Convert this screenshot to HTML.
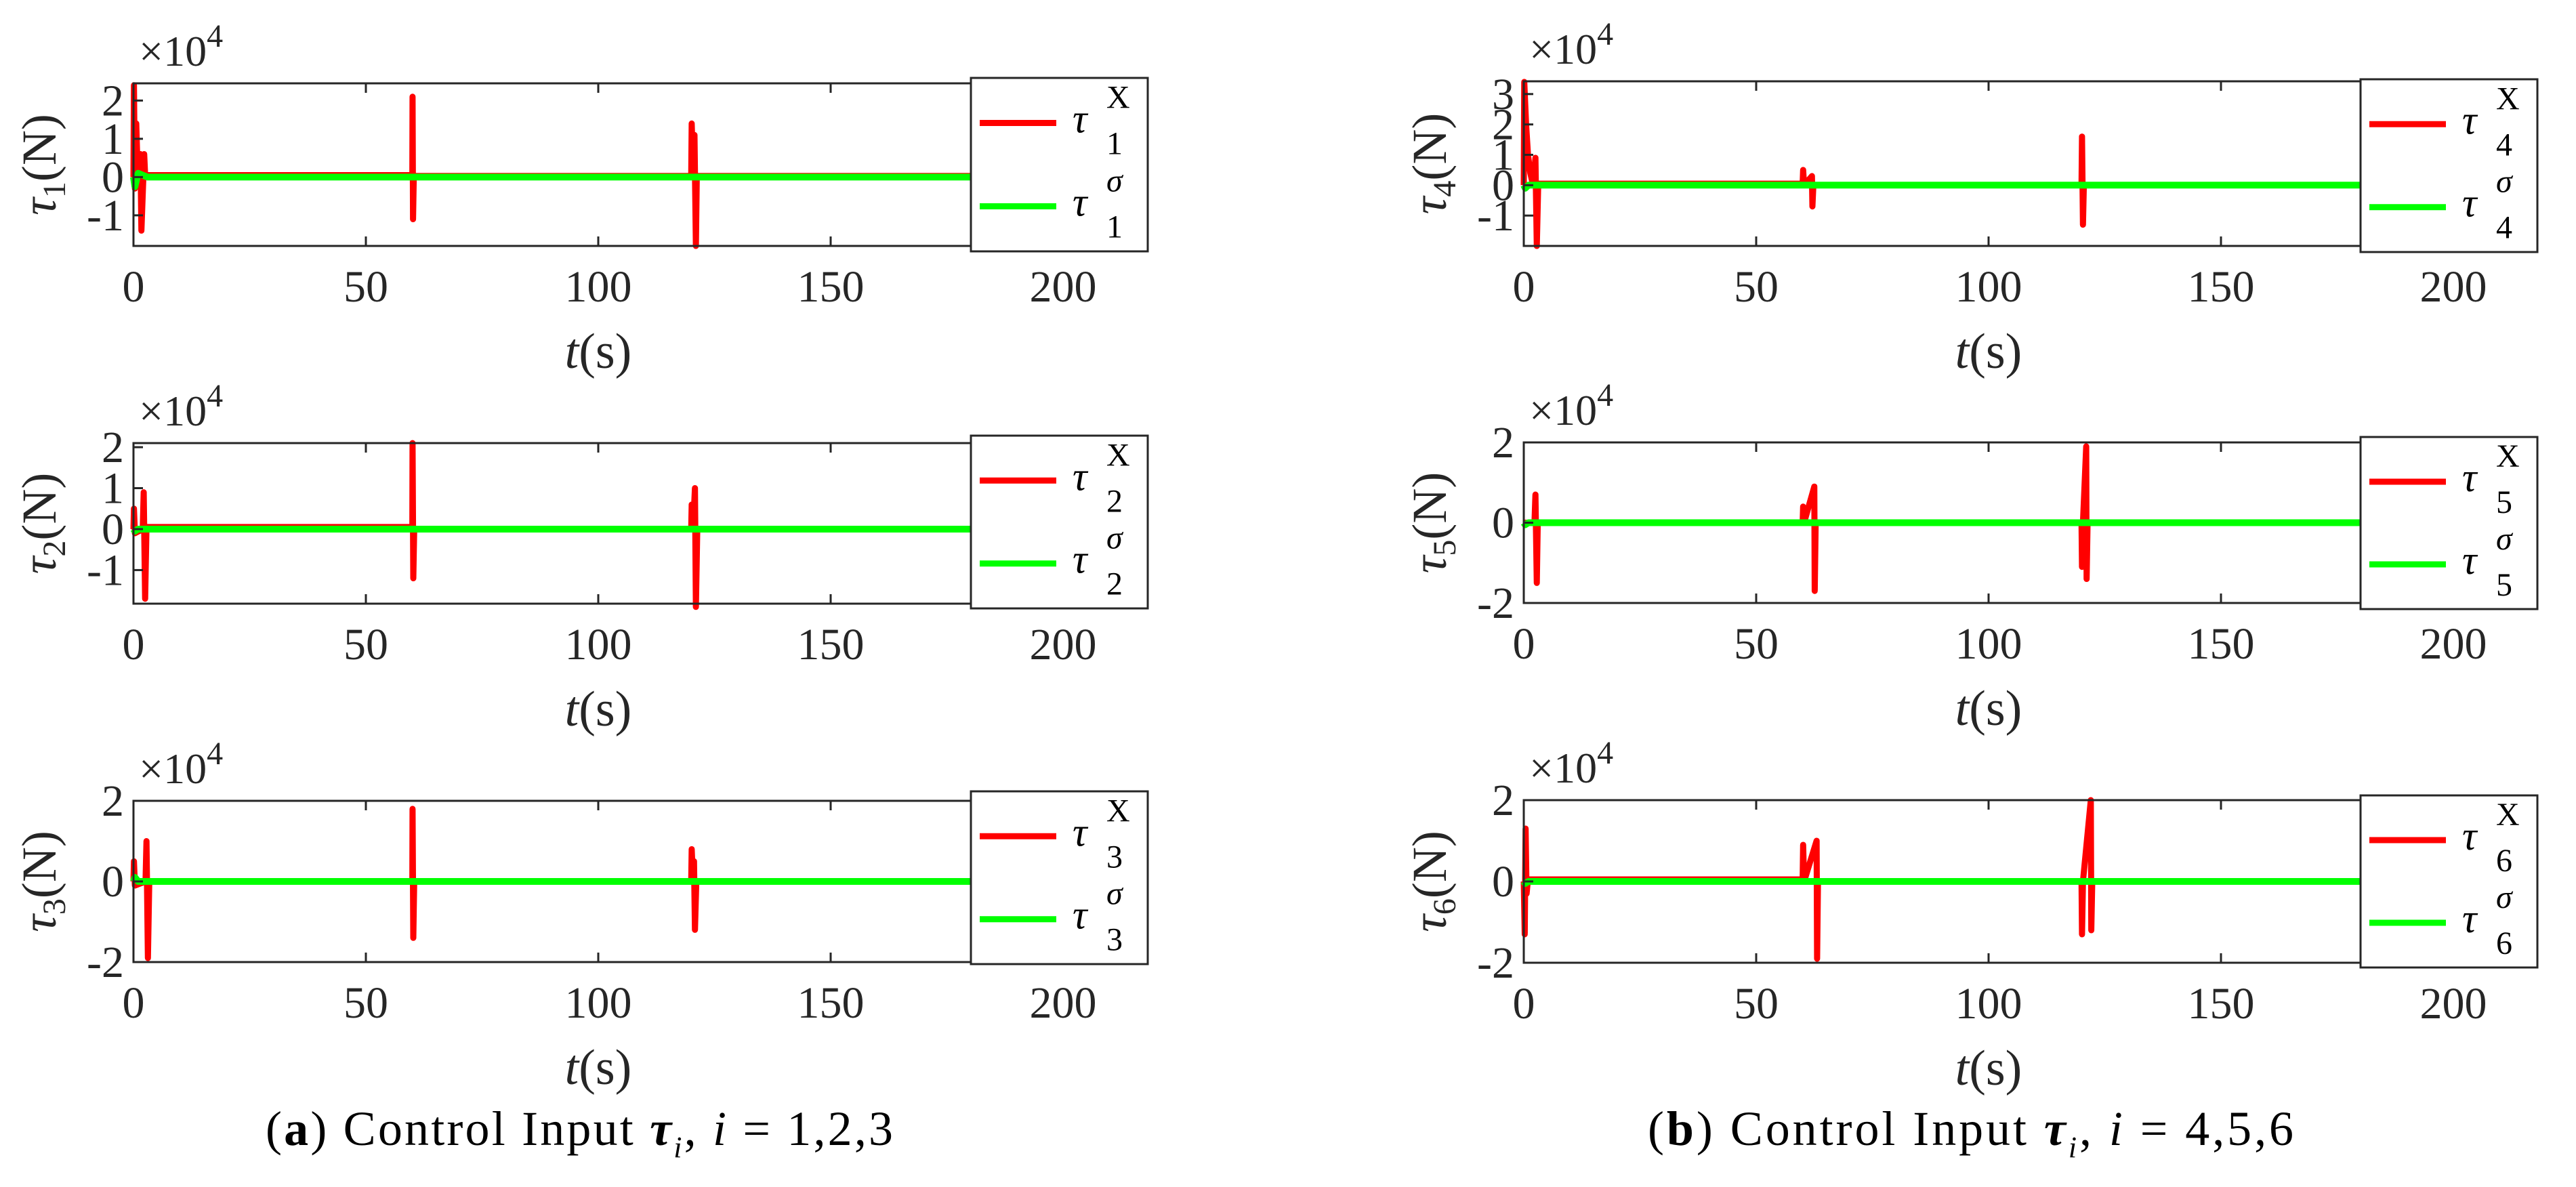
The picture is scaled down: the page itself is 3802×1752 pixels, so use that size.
<!DOCTYPE html>
<html><head><meta charset="utf-8"><style>
html,body{margin:0;padding:0;background:#fff;}
svg{display:block;font-family:"Liberation Serif",serif;}
</style></head><body>
<svg id="fig" width="3802" height="1752" viewBox="0 0 3802 1752" xmlns="http://www.w3.org/2000/svg">
<rect width="3802" height="1752" fill="#fff"/>
<text x="392" y="1690" font-size="72" fill="#000" textLength="926" lengthAdjust="spacing">(<tspan font-weight="bold">a</tspan>) Control Input  <tspan font-weight="bold" font-style="italic">τ</tspan><tspan font-style="italic" font-size="44" dy="18">i</tspan><tspan dy="-18">, </tspan><tspan font-style="italic">i</tspan> = 1,2,3</text>
<text x="2432" y="1690" font-size="72" fill="#000" textLength="953" lengthAdjust="spacing">(<tspan font-weight="bold">b</tspan>) Control Input  <tspan font-weight="bold" font-style="italic">τ</tspan><tspan font-style="italic" font-size="44" dy="18">i</tspan><tspan dy="-18">, </tspan><tspan font-style="italic">i</tspan> = 4,5,6</text>
</svg>
<script>
// Shared x-axis data
const xTicks = [0, 50, 100, 150, 200];
// Red (τ^X) series per panel: times (s) and values (×10^4 N)
const red1T = [0, 0.1, 0.3, 0.6, 0.9, 1.5, 1.7, 2.3, 2.5, 2.8, 8, 60, 60.05, 60.15, 60.3, 120, 120.1, 120.4, 120.7, 121.0, 121.2, 122, 180];
const red1V = [0, 2.4, -0.3, 1.4, 0.1, 0.6, -1.4, 0.6, 0.05, 0.05, 0.05, 0.05, 2.1, -1.1, 0.03, 0.03, 1.4, 0.2, 1.1, -1.8, 0.03, 0.03, 0.03];
const red2T = [0, 0.1, 0.3, 2.0, 2.2, 2.5, 2.8, 60, 60.05, 60.2, 60.4, 120, 120.1, 120.4, 120.8, 121.0, 121.3, 180];
const red2V = [0, 0.5, -0.1, 0.0, 0.9, -1.7, 0.05, 0.05, 2.1, -1.2, 0.0, 0.0, 0.6, 0.0, 1.0, -1.9, 0.0, 0.0];
const red3T = [0, 0.1, 0.3, 2.6, 2.8, 3.1, 3.4, 60, 60.05, 60.2, 60.4, 120, 120.1, 120.4, 120.6, 120.8, 121.1, 180];
const red3V = [0, 0.5, -0.1, 0.0, 1.0, -1.9, 0.0, 0.0, 1.8, -1.4, 0.0, 0.0, 0.8, 0.0, 0.5, -1.2, 0.0, 0.0];
const red4T = [0, 0.1, 0.5, 0.9, 1.4, 2.0, 2.5, 2.8, 3.1, 60, 60.1, 60.3, 62, 62.1, 62.3, 120, 120.1, 120.3, 120.5, 180];
const red4V = [0, 3.4, 2.0, 1.0, 0.4, 0.0, 0.9, -2.0, 0.05, 0.05, 0.5, 0.0, 0.3, -0.7, 0.0, 0.0, 1.6, -1.3, 0.0, 0.0];
const red5T = [0, 2.3, 2.5, 2.8, 3.0, 60, 60.1, 60.3, 62.5, 62.6, 62.8, 120, 120.1, 120.3, 121, 121.1, 121.3, 180];
const red5V = [0, 0.0, 0.7, -1.5, 0.0, 0.0, 0.4, 0.0, 0.9, -1.7, 0.0, 0.0, -1.1, 0.0, 1.9, -1.4, 0.0, 0.0];
const red6T = [0, 0.2, 0.4, 0.6, 0.9, 60, 60.1, 60.3, 63, 63.1, 63.3, 120, 120.1, 120.3, 122, 122.1, 122.3, 180];
const red6V = [0, -1.3, 1.3, -0.3, 0.05, 0.05, 0.9, 0.0, 1.0, -1.9, 0.0, 0.0, -1.3, 0.0, 2.0, -1.2, 0.0, 0.0];
// Green (τ^σ) series per panel
const greenT = [0, 0.3, 1.0, 3.0, 180];
const green1V = [0, -0.25, 0.1, 0.0, 0.0];
const green2V = [0, -0.05, 0.0, 0.0, 0.0];
const green3V = [0, 0.1, 0.0, 0.0, 0.0];
const green4V = [0, -0.1, 0.0, 0.0, 0.0];
const green5V = [0, -0.05, 0.0, 0.0, 0.0];
const green6V = [0, -0.05, 0.0, 0.0, 0.0];
// y ticks & limits per panel
const yTicks1 = [-1, 0, 1, 2], yLim1 = [-1.8, 2.45];
const yTicks2 = [-1, 0, 1, 2], yLim2 = [-1.82, 2.1];
const yTicks3 = [-2, 0, 2], yLim3 = [-2, 2];
const yTicks4 = [-1, 0, 1, 2, 3], yLim4 = [-2.0, 3.42];
const yTicks5 = [-2, 0, 2], yLim5 = [-2, 2];
const yTicks6 = [-2, 0, 2], yLim6 = [-2, 2];

const NS = 'http://www.w3.org/2000/svg';
const svg = document.getElementById('fig');
const C = '#262626';
function mk(tag, attrs, parent) {
  const e = document.createElementNS(NS, tag);
  for (const k in attrs) e.setAttribute(k, attrs[k]);
  (parent || svg).appendChild(e);
  return e;
}
const panels = [
  {n:1, L:197, T:123, B:363, lg:[1433,115,1694,371], yt:yTicks1, yl:yLim1, rt:red1T, rv:red1V, gv:green1V},
  {n:2, L:197, T:654, B:891, lg:[1433,643,1694,898], yt:yTicks2, yl:yLim2, rt:red2T, rv:red2V, gv:green2V},
  {n:3, L:197, T:1182, B:1420, lg:[1433,1168,1694,1423], yt:yTicks3, yl:yLim3, rt:red3T, rv:red3V, gv:green3V},
  {n:4, L:2249, T:120, B:363, lg:[3484,117,3745,372], yt:yTicks4, yl:yLim4, rt:red4T, rv:red4V, gv:green4V},
  {n:5, L:2249, T:653, B:890, lg:[3484,645,3745,899], yt:yTicks5, yl:yLim5, rt:red5T, rv:red5V, gv:green5V},
  {n:6, L:2249, T:1181, B:1421, lg:[3484,1174,3745,1428], yt:yTicks6, yl:yLim6, rt:red6T, rv:red6V, gv:green6V}
];
panels.forEach(p => {
  const g = mk('g', {});
  
  
  const R = p.L + 1372;
  const xs = t => p.L + t * (1372 / 200);
  const ys = v => p.B - (v - p.yl[0]) / (p.yl[1] - p.yl[0]) * (p.B - p.T);
  const redPts = p.rt.map((t, i) => xs(t).toFixed(1) + ',' + ys(p.rv[i]).toFixed(1)).join(' ');
  const red = mk('polyline', {points: redPts, fill: 'none', stroke: '#ff0000', 'stroke-width': 9, 'stroke-linejoin': 'round'}, g);
  
  
  const grPts = greenT.map((t, i) => xs(t).toFixed(1) + ',' + ys(p.gv[i]).toFixed(1)).join(' ');
  const gr = mk('polyline', {points: grPts, fill: 'none', stroke: '#00ff00', 'stroke-width': 10, 'stroke-linejoin': 'round'}, g);
  
  
  const box = mk('rect', {x: p.L, y: p.T, width: R - p.L, height: p.B - p.T, fill: 'none', stroke: C, 'stroke-width': 3}, g);
  
  
  xTicks.forEach(t => {
    const x = xs(t);
    mk('line', {x1: x, y1: p.B, x2: x, y2: p.B - 14, stroke: C, 'stroke-width': 3}, g);
    mk('line', {x1: x, y1: p.T, x2: x, y2: p.T + 14, stroke: C, 'stroke-width': 3}, g);
    const tx = mk('text', {x: x, y: p.B + 82, 'font-size': 66, fill: C, 'text-anchor': 'middle'}, g);
    
    
    tx.textContent = t;
  });
  p.yt.forEach(v => {
    const y = ys(v);
    mk('line', {x1: p.L, y1: y, x2: p.L + 14, y2: y, stroke: C, 'stroke-width': 3}, g);
    const ty = mk('text', {x: p.L - 14, y: y + 22, 'font-size': 66, fill: C, 'text-anchor': 'end'}, g);
    
    
    ty.textContent = v;
  });
  const ex = mk('text', {x: p.L + 8, y: p.T - 26, 'font-size': 64, fill: C}, g);
  
  
  ex.innerHTML = '×10<tspan font-size="48" dy="-28">4</tspan>';
  const xt = mk('text', {x: (p.L + R) / 2, y: p.B + 180, 'font-size': 74, fill: C, 'text-anchor': 'middle'}, g);
  
  
  xt.innerHTML = '<tspan font-style="italic">t</tspan>(s)';
  const cy = (p.T + p.B) / 2;
  const yt = mk('text', {x: 0, y: 0, 'font-size': 72, fill: C, 'text-anchor': 'middle', transform: 'translate(' + (p.L - 115) + ',' + cy + ') rotate(-90)'}, g);
  
  
  yt.innerHTML = '<tspan font-style="italic">τ</tspan><tspan font-size="48" dy="14">' + p.n + '</tspan><tspan dy="-14">(N)</tspan>';
  const [lx1, ly1, lx2, ly2] = p.lg;
  const lg = mk('g', {}, g);
  
  
  mk('rect', {x: lx1, y: ly1, width: lx2 - lx1, height: ly2 - ly1, fill: '#fff', stroke: C, 'stroke-width': 3}, lg);
  const h = ly2 - ly1;
  [[0.26, '#ff0000', 'X', 'x'], [0.74, '#00ff00', 'σ', 'sigma']].forEach(e => {
    const y = ly1 + h * e[0];
    const en = mk('g', {}, lg);
    
    
    mk('line', {x1: lx1 + 13, y1: y, x2: lx1 + 126, y2: y, stroke: e[1], 'stroke-width': 9}, en);
    mk('text', {x: lx1 + 150, y: y + 14, 'font-size': 60, 'font-style': 'italic', fill: '#000'}, en).textContent = 'τ';
    const sup = mk('text', {x: lx1 + 200, y: y - 22, 'font-size': 48, fill: '#000', 'font-style': e[2] === 'σ' ? 'italic' : 'normal'}, en);
    sup.textContent = e[2];
    mk('text', {x: lx1 + 200, y: y + 46, 'font-size': 48, fill: '#000'}, en).textContent = p.n;
  });
});
</script>
</body></html>
